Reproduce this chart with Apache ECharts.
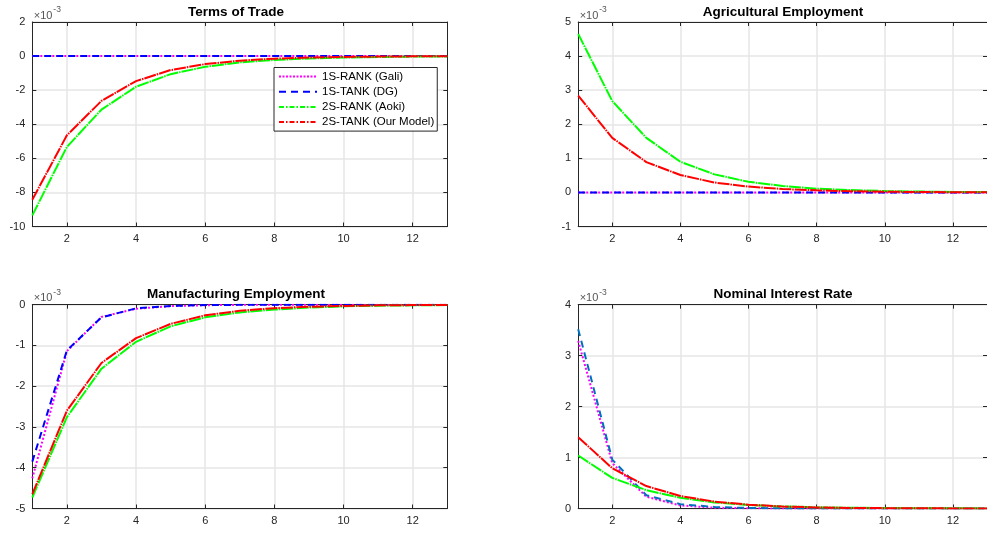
<!DOCTYPE html>
<html>
<head>
<meta charset="utf-8">
<script src="https://cdn.jsdelivr.net/npm/echarts@6/dist/echarts.min.js"></script>
<style>
  html, body { margin: 0; padding: 0; background: #ffffff; }
  #chart { width: 987px; height: 533px; }
</style>
</head>
<body>
<div id="chart"></div>
<script>
// Impulse responses over 13 quarters; all values are in units of 1e-3.
const periods = [1, 2, 3, 4, 5, 6, 7, 8, 9, 10, 11, 12, 13];
const xTicks = [2, 4, 6, 8, 10, 12];
const modelNames = ['1S-RANK (Gali)', '1S-TANK (DG)', '2S-RANK (Aoki)', '2S-TANK (Our Model)'];
const panelTitles = ['Terms of Trade', 'Agricultural Employment', 'Manufacturing Employment', 'Nominal Interest Rate'];

// Terms of Trade
const totGali = [0, 0, 0, 0, 0, 0, 0, 0, 0, 0, 0, 0, 0];
const totDG   = [0, 0, 0, 0, 0, 0, 0, 0, 0, 0, 0, 0, 0];
const totAoki = [-9.35, -5.33, -3.14, -1.80, -1.06, -0.63, -0.37, -0.23, -0.14, -0.085, -0.05, -0.03, -0.02];
const totOurs = [-8.43, -4.65, -2.63, -1.47, -0.82, -0.47, -0.27, -0.15, -0.09, -0.05, -0.03, -0.017, -0.01];

// Agricultural Employment
const agrGali = [0, 0, 0, 0, 0, 0, 0, 0, 0, 0, 0, 0, 0];
const agrDG   = [0, 0, 0, 0, 0, 0, 0, 0, 0, 0, 0, 0, 0];
const agrAoki = [4.65, 2.68, 1.60, 0.90, 0.53, 0.31, 0.19, 0.11, 0.07, 0.04, 0.025, 0.015, 0.01];
const agrOurs = [2.84, 1.60, 0.89, 0.51, 0.29, 0.17, 0.10, 0.06, 0.035, 0.02, 0.012, 0.007, 0.004];

// Manufacturing Employment
const manGali = [-4.26, -1.14, -0.30, -0.10, -0.035, -0.012, -0.004, -0.001, 0, 0, 0, 0, 0];
const manDG   = [-3.85, -1.12, -0.31, -0.09, -0.03, -0.01, -0.003, -0.001, 0, 0, 0, 0, 0];
const manAoki = [-4.73, -2.76, -1.57, -0.91, -0.53, -0.31, -0.19, -0.12, -0.07, -0.04, -0.025, -0.015, -0.01];
const manOurs = [-4.65, -2.60, -1.43, -0.82, -0.47, -0.26, -0.15, -0.085, -0.05, -0.03, -0.015, -0.01, -0.005];

// Nominal Interest Rate
const nirGali = [3.29, 0.89, 0.23, 0.06, 0.015, 0.005, 0.001, 0, 0, 0, 0, 0, 0];
const nirDG   = [3.52, 0.96, 0.26, 0.085, 0.03, 0.01, 0.003, 0.001, 0, 0, 0, 0, 0];
const nirAoki = [1.04, 0.60, 0.36, 0.21, 0.12, 0.07, 0.04, 0.025, 0.015, 0.009, 0.005, 0.003, 0.002];
const nirOurs = [1.40, 0.79, 0.44, 0.245, 0.135, 0.075, 0.04, 0.022, 0.012, 0.007, 0.004, 0.002, 0.001];

const FONT = '"Liberation Sans", Arial, Helvetica, sans-serif';
const AXIS_COLOR = '#262626';
const GRID_COLOR = '#e6e6e6';

// Panel geometry and y ranges
const panels = [
  { title: panelTitles[0], left: 32.3, top: 22, width: 415, height: 204.5, ymin: -10, ymax: 2, yint: 2,
    values: [totGali, totDG, totAoki, totOurs], dgColor: '#0000ff' },
  { title: panelTitles[1], left: 578.2, top: 22, width: 415.5, height: 204.5, ymin: -1, ymax: 5, yint: 1,
    values: [agrGali, agrDG, agrAoki, agrOurs], dgColor: '#0000ff' },
  { title: panelTitles[2], left: 32.3, top: 304.7, width: 415, height: 203.8, ymin: -5, ymax: 0, yint: 1,
    values: [manGali, manDG, manAoki, manOurs], dgColor: '#0000ff' },
  { title: panelTitles[3], left: 578.2, top: 304.7, width: 415.5, height: 203.8, ymin: 0, ymax: 4, yint: 1,
    values: [nirGali, nirDG, nirAoki, nirOurs], dgColor: '#0072bd' }
];

// Line styles: dotted, dashed, dash-dot, dash-dot (the dash-dot is fine enough to read almost solid)
const lineStyles = [
  { color: '#ff00ff', type: [2, 2], legendType: [2, 1.5] },
  { color: '#0000ff', type: [7, 5], legendType: [7, 5] },
  { color: '#00ff00', type: [12, 1, 1.5, 1], legendType: [5, 2, 1.5, 2] },
  { color: '#ff0000', type: [12, 1, 1.5, 1], legendType: [5, 2, 1.5, 2] }
];

const grids = [], xAxes = [], yAxes = [], series = [], graphics = [];

panels.forEach((p, i) => {
  grids.push({ left: p.left, top: p.top, width: p.width, height: p.height, containLabel: false });

  const xBase = {
    gridIndex: i, type: 'value', min: 1, max: 13,
    axisLine: { show: true, onZero: false, lineStyle: { color: AXIS_COLOR, width: 1 } },
    axisTick: { show: true, inside: true, length: 4, customValues: xTicks, lineStyle: { color: AXIS_COLOR } }
  };
  xAxes.push(Object.assign({}, xBase, {
    position: 'bottom',
    axisLabel: { show: true, customValues: xTicks, color: AXIS_COLOR, fontSize: 11, fontFamily: FONT, margin: 7 },
    splitLine: { show: true, lineStyle: { color: GRID_COLOR, width: 1.5 } }
  }));
  xAxes.push(Object.assign({}, xBase, {
    position: 'top', axisLabel: { show: false }, splitLine: { show: false }
  }));

  const yBase = {
    gridIndex: i, type: 'value', min: p.ymin, max: p.ymax, interval: p.yint,
    axisLine: { show: true, onZero: false, lineStyle: { color: AXIS_COLOR, width: 1 } },
    axisTick: { show: true, inside: true, length: 4, lineStyle: { color: AXIS_COLOR } }
  };
  yAxes.push(Object.assign({}, yBase, {
    position: 'left',
    axisLabel: { show: true, color: AXIS_COLOR, fontSize: 11, fontFamily: FONT, margin: 7 },
    splitLine: { show: true, lineStyle: { color: GRID_COLOR, width: 1.5 } }
  }));
  yAxes.push(Object.assign({}, yBase, {
    position: 'right', axisLabel: { show: false }, splitLine: { show: false }
  }));

  p.values.forEach((vals, k) => {
    const st = lineStyles[k];
    const color = k === 1 ? p.dgColor : st.color;
    series.push({
      name: modelNames[k],
      type: 'line',
      xAxisIndex: i * 2,
      yAxisIndex: i * 2,
      data: periods.map((t, j) => [t, vals[j]]),
      symbol: 'none',
      smooth: false,
      clip: true,
      color: color,
      lineStyle: { color: color, width: 2, type: st.type },
      z: 2 + k
    });
  });

  // Panel title
  graphics.push({
    type: 'text', x: p.left < 300 ? 236 : 783, y: p.top - 10,
    style: { text: p.title, font: 'bold 13.5px ' + FONT, fill: '#000000', align: 'center', verticalAlign: 'middle' }
  });
  // Exponent marker
  graphics.push({
    type: 'text', x: p.left + 1.5, y: p.top - 6.5,
    style: { text: '\u00d710', font: '11px ' + FONT, fill: '#555555', align: 'left', verticalAlign: 'middle' }
  });
  graphics.push({
    type: 'text', x: p.left + 21, y: p.top - 12,
    style: { text: '-3', font: '8.5px ' + FONT, fill: '#555555', align: 'left', verticalAlign: 'middle' }
  });
});

const legendData = modelNames.map((name, k) => ({
  name: name,
  itemStyle: { opacity: 0 },
  lineStyle: { color: lineStyles[k].color, width: 2, type: lineStyles[k].legendType }
}));

const chart = echarts.init(document.getElementById('chart'), null, { renderer: 'canvas' });
chart.setOption({
  animation: false,
  backgroundColor: '#ffffff',
  grid: grids,
  xAxis: xAxes,
  yAxis: yAxes,
  legend: {
    data: legendData,
    orient: 'vertical',
    left: 274,
    top: 67.5,
    padding: [3, 3, 3, 4],
    itemWidth: 38,
    itemHeight: 10,
    itemGap: 3.2,
    selectedMode: false,
    backgroundColor: '#ffffff',
    borderColor: AXIS_COLOR,
    borderWidth: 1,
    borderRadius: 0,
    itemStyle: { opacity: 0 },
    textStyle: { color: '#000000', fontSize: 11.5, fontFamily: FONT }
  },
  graphic: graphics,
  series: series
});
</script>
</body>
</html>
